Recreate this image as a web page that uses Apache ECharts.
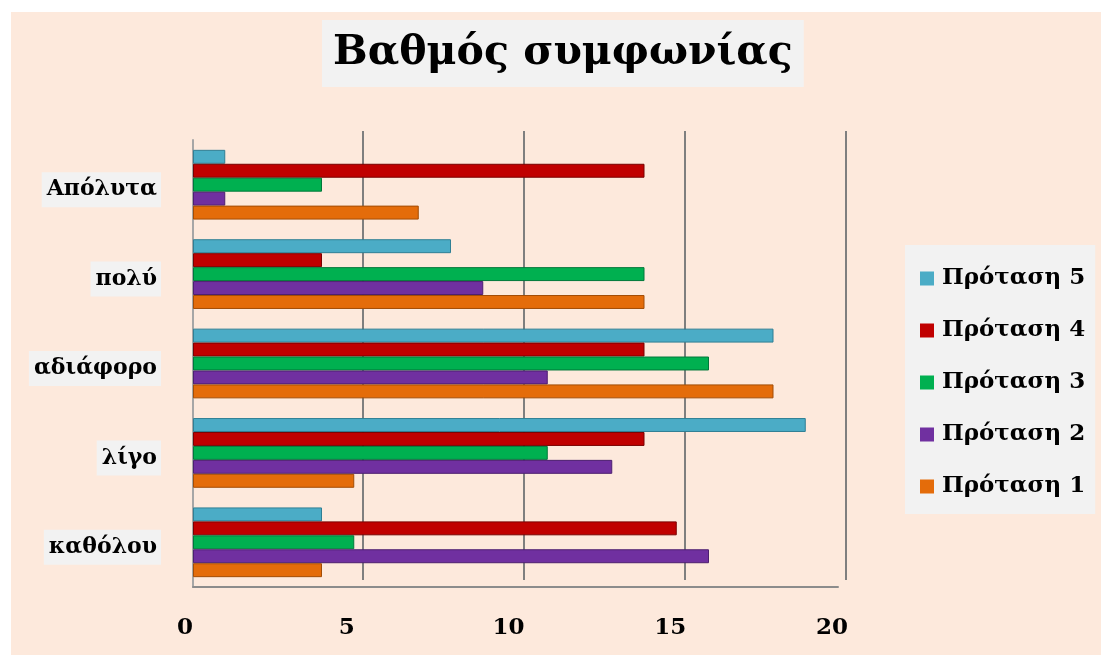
<!DOCTYPE html>
<html>
<head>
<meta charset="utf-8">
<script src="https://cdn.jsdelivr.net/npm/echarts@6/dist/echarts.min.js"></script>
<style>
  html, body { margin: 0; padding: 0; background: #ffffff; }
  #chart { position: absolute; left: 11px; top: 12px; width: 1090px; height: 643px; background: #fde9dc; }
</style>
</head>
<body>
<div id="chart"></div>
<script>
const categories = ["καθόλου", "λίγο", "αδιάφορο", "πολύ", "Απόλυτα"];
const seriesNames = ["Πρόταση 1", "Πρόταση 2", "Πρόταση 3", "Πρόταση 4", "Πρόταση 5"];
const protasi1 = [4, 5, 18, 14, 7];
const protasi2 = [16, 13, 11, 9, 1];
const protasi3 = [5, 11, 16, 14, 4];
const protasi4 = [15, 14, 14, 4, 14];
const protasi5 = [4, 19, 18, 8, 1];
const xTicks = [0, 5, 10, 15, 20];

const values = [protasi1, protasi2, protasi3, protasi4, protasi5];
const colors = ["#e46c0a", "#7030a0", "#00b050", "#c00000", "#4bacc6"];
const edges = ["#a34c05", "#4d1f70", "#00783a", "#7a0000", "#2f7f94"];
const serif = "'DejaVu Serif', 'Liberation Serif', serif";

const chart = echarts.init(document.getElementById("chart"));

// bars of a group are stacked from the top down, so feed the last series first
const order = [4, 3, 2, 1, 0];

chart.setOption({
  animation: false,
  title: {
    text: "Βαθμός συμφωνίας",
    left: 311,
    top: 8,
    backgroundColor: "#f2f2f2",
    padding: [13, 11, 13, 11],
    textStyle: { fontFamily: serif, fontWeight: "bold", fontSize: 41, color: "#000" }
  },
  legend: {
    orient: "vertical",
    left: 894,
    top: 233,
    padding: [20, 10, 14, 15],
    backgroundColor: "#f2f2f2",
    itemWidth: 14,
    itemHeight: 14,
    itemGap: 25,
    icon: "rect",
    itemStyle: { borderWidth: 0 },
    data: seriesNames.slice().reverse(),
    textStyle: { fontFamily: serif, fontWeight: "bold", fontSize: 23, lineHeight: 27, color: "#000", padding: [0, 0, 0, 3] }
  },
  grid: [
    { left: 182, right: 263, top: 128, bottom: 68 },
    { left: 190, right: 255, top: 119, bottom: 75 },
    { left: 174, right: 269, top: 128, bottom: 68 },
    { left: 182, right: 263, top: 133, bottom: 63 }
  ],
  xAxis: [
    {
      gridIndex: 0,
      type: "value",
      min: xTicks[0],
      max: xTicks[xTicks.length - 1],
      interval: 5,
      axisLine: { show: true, lineStyle: { color: "#8c8c8c", width: 2 } },
      axisTick: { show: false },
      splitLine: { show: false },
      axisLabel: { show: false }
    },
    {
      gridIndex: 1,
      type: "value",
      min: xTicks[0],
      max: xTicks[xTicks.length - 1],
      interval: 5,
      axisLine: { show: false },
      axisTick: { show: false },
      axisLabel: { show: false },
      splitLine: {
        show: true,
        lineStyle: { color: ["rgba(0,0,0,0)", "#7f7f7f", "#7f7f7f", "#7f7f7f", "#7f7f7f"], width: 2 }
      }
    },
    {
      gridIndex: 2,
      type: "value",
      min: xTicks[0],
      max: xTicks[xTicks.length - 1],
      interval: 5,
      axisLine: { show: false },
      axisTick: { show: false },
      splitLine: { show: false },
      axisLabel: { margin: 30, fontFamily: serif, fontWeight: "bold", fontSize: 23, color: "#000" }
    },
    {
      gridIndex: 3,
      type: "value",
      min: xTicks[0],
      max: xTicks[xTicks.length - 1],
      show: false
    }
  ],
  yAxis: [
    {
      gridIndex: 0,
      type: "category",
      data: categories,
      axisLine: { show: true, lineStyle: { color: "#a6a6a6", width: 2 } },
      axisTick: { show: false },
      axisLabel: { show: false }
    },
    {
      gridIndex: 1,
      type: "category",
      data: categories,
      axisLine: { show: false },
      axisTick: { show: false },
      axisLabel: { show: false }
    },
    {
      gridIndex: 2,
      type: "category",
      data: categories,
      show: false
    },
    {
      gridIndex: 3,
      type: "category",
      data: categories,
      axisLine: { show: false },
      axisTick: { show: false },
      axisLabel: {
        margin: 32,
        fontFamily: serif,
        fontWeight: "bold",
        fontSize: 22,
        color: "#000",
        backgroundColor: "#f2f2f2",
        padding: [7, 4, 6, 5]
      }
    }
  ],
  series: order.map((i) => ({
    name: seriesNames[i],
    type: "bar",
    xAxisIndex: 0,
    yAxisIndex: 0,
    data: values[i],
    barGap: "0%",
    barCategoryGap: "22%",
    itemStyle: { color: colors[i], borderColor: edges[i], borderWidth: 1 }
  }))
});
</script>
</body>
</html>
